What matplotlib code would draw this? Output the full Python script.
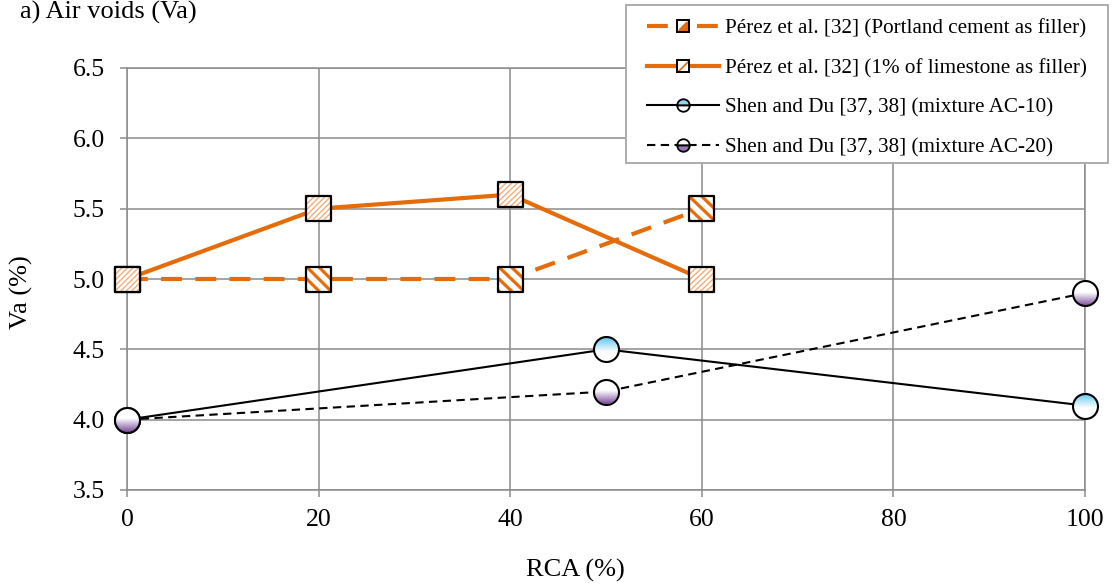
import numpy as np
import matplotlib
matplotlib.use('Agg')
import matplotlib.pyplot as plt
from matplotlib.lines import Line2D
from matplotlib.patches import Ellipse, Rectangle
from matplotlib.path import Path
from matplotlib.colors import LinearSegmentedColormap, to_rgba
from matplotlib.legend_handler import HandlerTuple

plt.rcParams['font.family'] = ['Liberation Serif', 'DejaVu Serif']

# ---------------- data ----------------
rca_perez = [0, 20, 40, 60]
va_perez_portland = [5.0, 5.0, 5.0, 5.5]
va_perez_limestone = [5.0, 5.5, 5.6, 5.0]
rca_shen = [0, 50, 100]
va_shen_ac10 = [4.0, 4.5, 4.1]
va_shen_ac20 = [4.0, 4.2, 4.9]
series_labels = [
    "Pérez et al. [32] (Portland cement as filler)",
    "Pérez et al. [32] (1% of limestone as filler)",
    "Shen and Du [37, 38] (mixture AC-10)",
    "Shen and Du [37, 38] (mixture AC-20)",
]
x_ticks = [0, 20, 40, 60, 80, 100]
y_ticks = [3.5, 4.0, 4.5, 5.0, 5.5, 6.0, 6.5]
title_text = "a) Air voids (Va)"
x_label = "RCA (%)"
y_label = "Va (%)"

# ---------------- style ----------------
ORANGE = '#E46C0A'
ORANGE_LIGHT = '#F3A469'
GRID = '#8c8c8c'
W, H = 1112, 586
L, R, T, B = 127, 1085, 68, 490
PX_X = 100 / (R - L)      # data units per pixel (x)
PX_Y = 3.0 / (B - T)      # data units per pixel (y)

fig = plt.figure(figsize=(W / 100, H / 100), dpi=100)
ax = fig.add_axes([L / W, 1 - B / H, (R - L) / W, (B - T) / H])
ax.set_xlim(0, 100)
ax.set_ylim(3.5, 6.5)
ax.set_xticks(x_ticks)
ax.set_yticks(y_ticks)
ax.set_yticklabels([f"{v:.1f}" for v in y_ticks])
ax.grid(True, color=GRID, lw=1.1, zorder=0)
ax.set_axisbelow(True)
for s in ax.spines.values():
    s.set_color(GRID)
    s.set_linewidth(1.1)
ax.tick_params(axis='both', direction='out', length=5, width=1.1, color=GRID,
               labelsize=18.5, labelcolor='black')
ax.tick_params(axis='y', pad=11)
ax.tick_params(axis='x', pad=9)

# lines
ax.plot(rca_shen, va_shen_ac10, color='black', lw=1.5, zorder=2)
ax.plot(rca_shen, va_shen_ac20, color='black', lw=1.5, ls=(0, (4, 2.6)), zorder=2)
ax.plot(rca_perez, va_perez_portland, color=ORANGE, lw=3, ls=(0, (5, 3.2)), zorder=3)
ax.plot(rca_perez, va_perez_limestone, color=ORANGE, lw=3, zorder=3)


# gradient circle markers
def gradient_markers(xs, ys, cmap, z):
    r_px = 12.5
    dx, dy = r_px * PX_X, r_px * PX_Y
    grad = np.linspace(0, 1, 128).reshape(-1, 1)
    for x, y in zip(xs, ys):
        im = ax.imshow(grad, cmap=cmap, extent=(x - dx, x + dx, y - dy, y + dy),
                       origin='lower', aspect='auto', zorder=z, interpolation='bilinear')
        e = Ellipse((x, y), 2 * dx, 2 * dy, transform=ax.transData, fc='none', ec='none')
        im.set_clip_path(e)
        im.set_clip_box(fig.bbox)
    ax.plot(xs, ys, ls='none', marker='o', ms=18, mfc='none', mec='black', mew=1.5,
            zorder=z + 0.5, clip_on=False)


cmap_blue = LinearSegmentedColormap.from_list('b', [(0, 'white'), (0.4, 'white'), (1, '#5CC6EE')])
cmap_purple = LinearSegmentedColormap.from_list('p', [(0, '#7A4B9C'), (0.55, 'white'), (1, 'white')])
gradient_markers(rca_shen, va_shen_ac10, cmap_blue, 4)
gradient_markers(rca_shen, va_shen_ac20, cmap_purple, 5)


# striped square markers (stripe texture image + black outline)
def striped_squares(xs, ys, direction, period, width, color, z, side_px=25):
    n = side_px * 4
    rr, cc = np.mgrid[0:n, 0:n] / 4.0
    if direction == 'back':      # '\' stripes
        d = cc - rr
    else:                        # '/' stripes
        d = cc + rr - side_px
    mask = ((d + width / 2.0) % period) < width
    rgba = np.ones((n, n, 4))
    rgba[mask] = np.array(to_rgba(color))
    dx, dy = side_px / 2 * PX_X, side_px / 2 * PX_Y
    for x, y in zip(xs, ys):
        im = ax.imshow(rgba, extent=(x - dx, x + dx, y - dy, y + dy), origin='upper',
                       aspect='auto', zorder=z, interpolation='antialiased')
        im.set_clip_path(None)
        im.set_clip_box(fig.bbox)
    ax.scatter(xs, ys, s=side_px ** 2 * 0.5184, marker='s', facecolor='none',
               edgecolor='black', linewidths=1.6, zorder=z + 0.1, clip_on=False)


striped_squares(rca_perez, va_perez_portland, 'back', 12, 4.5, ORANGE, 7)
striped_squares(rca_perez, va_perez_limestone, 'fwd', 5.5, 1.8, ORANGE_LIGHT, 8)
ax.set_xlim(0, 100)
ax.set_ylim(3.5, 6.5)

# ---------------- legend ----------------
frame = Rectangle((626 / W, 1 - 163 / H), 482 / W, 158 / H, transform=fig.transFigure,
                  fc='white', ec='#a6a6a6', lw=1.3, zorder=19, clip_on=False)
ax.add_artist(frame)

tri_marker = Path([(-1, -0.6), (0.6, 1), (1, 1), (1, -1), (-1, -1), (-1, -0.6)])
diag_marker = Path([(-1, -1), (1, 1)], [Path.MOVETO, Path.LINETO])
LMS = 8
sq_fill = Line2D([], [], ls='none', marker='s', ms=LMS, mfc='white', mec='none')
sq_edge = Line2D([], [], ls='none', marker='s', ms=LMS, mfc='none', mec='black', mew=1.4)
tri = Line2D([], [], ls='none', marker=tri_marker, ms=LMS - 1, mfc=ORANGE, mec='none')
diag = Line2D([], [], ls='none', marker=diag_marker, ms=LMS - 1, mfc='none',
              mec=ORANGE, mew=1.2)

l1 = Line2D([], [], color=ORANGE, lw=3, ls=(0, (5, 7)))
l2 = Line2D([], [], color=ORANGE, lw=3)
h3 = Line2D([], [], color='black', lw=1.5, marker='o', ms=9, mfc='#8fd8f3',
            mfcalt='white', fillstyle='top', mec='black', mew=1.3)
h4 = Line2D([], [], color='black', lw=1.5, ls=(0, (4, 2.6)), marker='o', ms=9,
            mfc='white', mfcalt='#9a75b8', fillstyle='top', mec='black', mew=1.3)
leg = ax.legend([(l1, sq_fill, tri, sq_edge), (l2, sq_fill, diag, sq_edge), h3, h4],
                series_labels,
                handler_map={tuple: HandlerTuple(ndivide=1, pad=0)},
                loc='upper left', bbox_to_anchor=(647 / W, 1 - 19 / H),
                bbox_transform=fig.transFigure, borderaxespad=0,
                fontsize=15.2, handlelength=3.4, handletextpad=0.3, labelspacing=0.93,
                borderpad=0, frameon=False, numpoints=1)
leg.set_zorder(20)

# texts
fig.text(20 / W, 1 - 19 / H, title_text, fontsize=19, ha='left', va='baseline')
fig.text(575 / W, 1 - 570 / H, x_label, fontsize=19, ha='center', va='center')
fig.text(21 / W, 1 - 292 / H, y_label, fontsize=19, ha='center', va='center', rotation=90)

fig.savefig('out.png', dpi=100)
